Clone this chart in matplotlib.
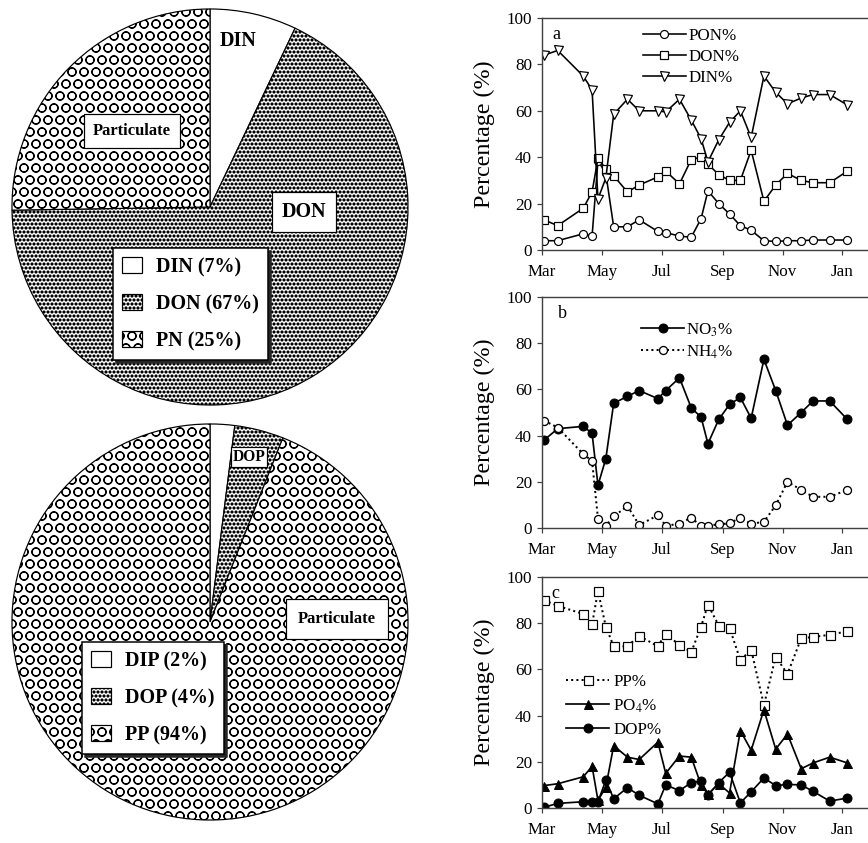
import matplotlib
matplotlib.use('Agg')
import matplotlib.pyplot as plt
import matplotlib.dates as mdates
import pandas as pd

plt.rcParams['font.family'] = ['Liberation Serif', 'DejaVu Serif']
plt.rcParams['mathtext.fontset'] = 'stix'
plt.rcParams['hatch.linewidth'] = 1.2

# ---------------- data ----------------
n_labels = ['DIN (7%)', 'DON (67%)', 'PN (25%)']
n_values = [7, 67, 25]
p_labels = ['DIP (2%)', 'DOP (4%)', 'PP (94%)']
p_values = [2, 4, 94]

sample_dates = ['2006-03-03', '2006-03-17', '2006-04-12', '2006-04-21', '2006-04-27',
                '2006-05-05', '2006-05-13', '2006-05-27', '2006-06-08', '2006-06-27',
                '2006-07-05', '2006-07-19', '2006-07-31', '2006-08-10', '2006-08-17',
                '2006-08-28', '2006-09-08', '2006-09-19', '2006-09-30', '2006-10-13',
                '2006-10-25', '2006-11-06', '2006-11-20', '2006-12-02', '2006-12-19',
                '2007-01-06']

pon = [4, 4, 7, 6, 38.5, 33, 10, 10, 13, 8, 7.5, 6, 5.5, 13.5, 25.5, 20, 15.5, 10.5, 8.5,
       4, 3.7, 4, 4, 4.3, 4.3, 4.3]
don = [13, 10.5, 18, 25, 39.5, 35, 32, 25, 28, 31.5, 34, 28.5, 39, 40, 37, 32.5, 30, 30, 43,
       21, 28, 33, 30, 29, 29, 34]
din = [84, 86, 75, 69, 22, 31, 58.5, 65, 60, 60, 59.5, 65, 56, 48, 38, 47.5, 55, 60, 48.5,
       75, 68, 63, 65.5, 67, 67, 62.5]

no3 = [38, 43, 44, 41, 18.5, 30, 54, 57, 59.5, 56, 59.5, 65, 52, 48, 36.5, 47, 53.5, 56.5,
       47.5, 73, 59.5, 44.5, 50, 55, 55, 47]
nh4 = [46.5, 43.5, 32, 29, 4, 1, 5, 9.5, 1.3, 5.5, 1, 1.8, 4.5, 0.8, 1, 1.6, 2, 4.5, 1.8,
       2.7, 9.8, 20, 16.5, 13.5, 13.5, 16.5]

pp = [90, 87.5, 84, 79.5, 94, 78.5, 70, 70, 74.5, 70, 75.5, 70.5, 67.5, 78.5, 88, 79, 78,
      64, 68.5, 44.5, 65.5, 58, 73.5, 74, 75, 76.5]
po4 = [9.7, 10.5, 13.5, 18, 3.3, 9, 27, 22, 21, 28.5, 15, 22.5, 22, 10, 6, 10.5, 6.5, 33.5,
       25, 42.5, 25.5, 32, 17, 19.5, 22, 19.5]
dop = [0.3, 2, 2.7, 2.7, 2.7, 12, 4, 8.8, 5.5, 1.8, 10, 7.5, 11, 11.5, 5.5, 11, 15.5, 2.2,
       7, 13, 9.7, 10.2, 10, 7.2, 3, 4.3]

x_start = '2006-03-01'
x_end = '2007-01-27'
y_ticks = [0, 20, 40, 60, 80, 100]

# ---------------- figure ----------------
W, H = 868, 843
DPI = 72
fig = plt.figure(figsize=(W / DPI, H / DPI), dpi=DPI)


def px_axes(x0, y0, x1, y1):
    return fig.add_axes([x0 / W, 1 - y1 / H, (x1 - x0) / W, (y1 - y0) / H])


def ftxt(x, y, s, size, pad=None, **kw):
    bb = None
    if pad is not None:
        bb = dict(boxstyle='square,pad=%s' % pad, facecolor='white', edgecolor='black',
                  linewidth=1.2)
    fig.text(x / W, 1 - y / H, s, fontsize=size, fontweight='bold', ha='center',
             va='center', bbox=bb, **kw)


pie_hatches = ['', 'ooo', 'O']


def pie_legend(ax, labels, x, y):
    leg = ax.legend(labels, loc='upper left', bbox_to_anchor=(x / W, 1 - y / H),
                    bbox_transform=fig.transFigure, borderaxespad=0,
                    prop=dict(family='Liberation Serif', weight='bold', size=20),
                    handlelength=1.0, handleheight=0.8, handletextpad=0.7,
                    labelspacing=0.85, borderpad=0.45, fancybox=False, framealpha=1,
                    edgecolor='black',
                    shadow=dict(ox=3, oy=-3, color='0.15', alpha=1))
    leg.get_frame().set_linewidth(1.5)
    return leg


# top pie (nitrogen)
axp1 = px_axes(10, 7, 410, 407)
axp1.pie(n_values, startangle=90, counterclock=False, colors=['white'] * 3,
         hatch=pie_hatches, wedgeprops=dict(edgecolor='black', linewidth=1.2))
axp1.set_xlim(-1.01, 1.01)
axp1.set_ylim(-1.01, 1.01)
axp1.set_aspect('auto')
pie_legend(axp1, n_labels, 113, 248)

ftxt(238, 41, 'DIN', 20)
ftxt(132, 131, 'Particulate', 16.5, pad=0.55)
ftxt(304, 212, 'DON', 20, pad=0.5)

# bottom pie (phosphorus)
axp2 = px_axes(10, 422, 410, 822)
axp2.pie(p_values, startangle=90, counterclock=False, colors=['white'] * 3,
         hatch=pie_hatches, wedgeprops=dict(edgecolor='black', linewidth=1.2))
axp2.set_xlim(-1.01, 1.01)
axp2.set_ylim(-1.01, 1.01)
axp2.set_aspect('auto')
pie_legend(axp2, p_labels, 82, 642)

ftxt(249, 457, 'DOP', 15.5, pad=0.12)
ftxt(337, 619, 'Particulate', 16.5, pad=0.7)

# ---------------- time-series panels ----------------
dates = pd.to_datetime(sample_dates)
xs, xe = pd.Timestamp(x_start), pd.Timestamp(x_end)


def style_ax(ax, letter, lx):
    ax.set_xlim(xs, xe)
    ax.set_ylim(0, 100)
    ax.set_yticks(y_ticks)
    ax.xaxis.set_major_locator(mdates.MonthLocator(bymonth=[1, 3, 5, 7, 9, 11]))
    ax.xaxis.set_major_formatter(mdates.DateFormatter('%b'))
    ax.spines['right'].set_visible(False)
    for s in ('top', 'left', 'bottom'):
        ax.spines[s].set_linewidth(1.4)
        ax.spines[s].set_color('0.25')
    ax.tick_params(axis='both', direction='out', length=5, width=1.2, labelsize=17,
                   color='0.25')
    ax.tick_params(axis='x', pad=9)
    ax.tick_params(axis='y', pad=5)
    ax.set_ylabel('Percentage (%)', fontsize=24)
    ax.yaxis.set_label_coords(-0.145, 0.5)
    ax.text(lx, 0.93, letter, transform=ax.transAxes, fontsize=18, ha='left',
            va='center')


ms = 8
leg_kw = dict(loc='upper left', frameon=False, fontsize=17, handlelength=2.5,
              borderpad=0, borderaxespad=0, numpoints=1)

# panel a
axa = px_axes(542, 18, 868, 250)
axa.plot(dates, pon, '-', color='black', lw=1.6, marker='o', ms=ms, mfc='white',
         mec='black', mew=1.2, label='PON%')
axa.plot(dates, don, '-', color='black', lw=1.6, marker='s', ms=ms, mfc='white',
         mec='black', mew=1.2, label='DON%')
axa.plot(dates, din, '-', color='black', lw=1.6, marker='v', ms=ms + 1, mfc='white',
         mec='black', mew=1.2, label='DIN%')
style_ax(axa, 'a', 0.033)
axa.legend(bbox_to_anchor=(0.31, 0.955), handletextpad=0.15, labelspacing=0.28, **leg_kw)

dotted = (0, (1, 1.6))
# panel b
axb = px_axes(542, 297, 868, 528)
axb.plot(dates, no3, '-', color='black', lw=1.7, marker='o', ms=ms + 1, mfc='black',
         mec='black', label='NO$_3$%')
axb.plot(dates, nh4, linestyle=dotted, color='black', lw=2, marker='o', ms=ms,
         mfc='white', mec='black', mew=1.3, label='NH$_4$%')
style_ax(axb, 'b', 0.05)
axb.legend(bbox_to_anchor=(0.305, 0.895), handletextpad=0.15, labelspacing=0.28, **leg_kw)

# panel c
axc = px_axes(542, 577, 868, 808)
axc.plot(dates, pp, linestyle=dotted, color='black', lw=2, marker='s', ms=ms + 1,
         mfc='white', mec='black', mew=1.2, label='PP%')
axc.plot(dates, po4, '-', color='black', lw=1.7, marker='^', ms=ms + 1, mfc='black',
         mec='black', label='PO$_4$%')
axc.plot(dates, dop, '-', color='black', lw=1.7, marker='o', ms=ms + 1, mfc='black',
         mec='black', label='DOP%')
style_ax(axc, 'c', 0.028)
axc.legend(bbox_to_anchor=(0.075, 0.58), handletextpad=0.25, labelspacing=0.42, **leg_kw)

fig.savefig('out.png', dpi=DPI)
